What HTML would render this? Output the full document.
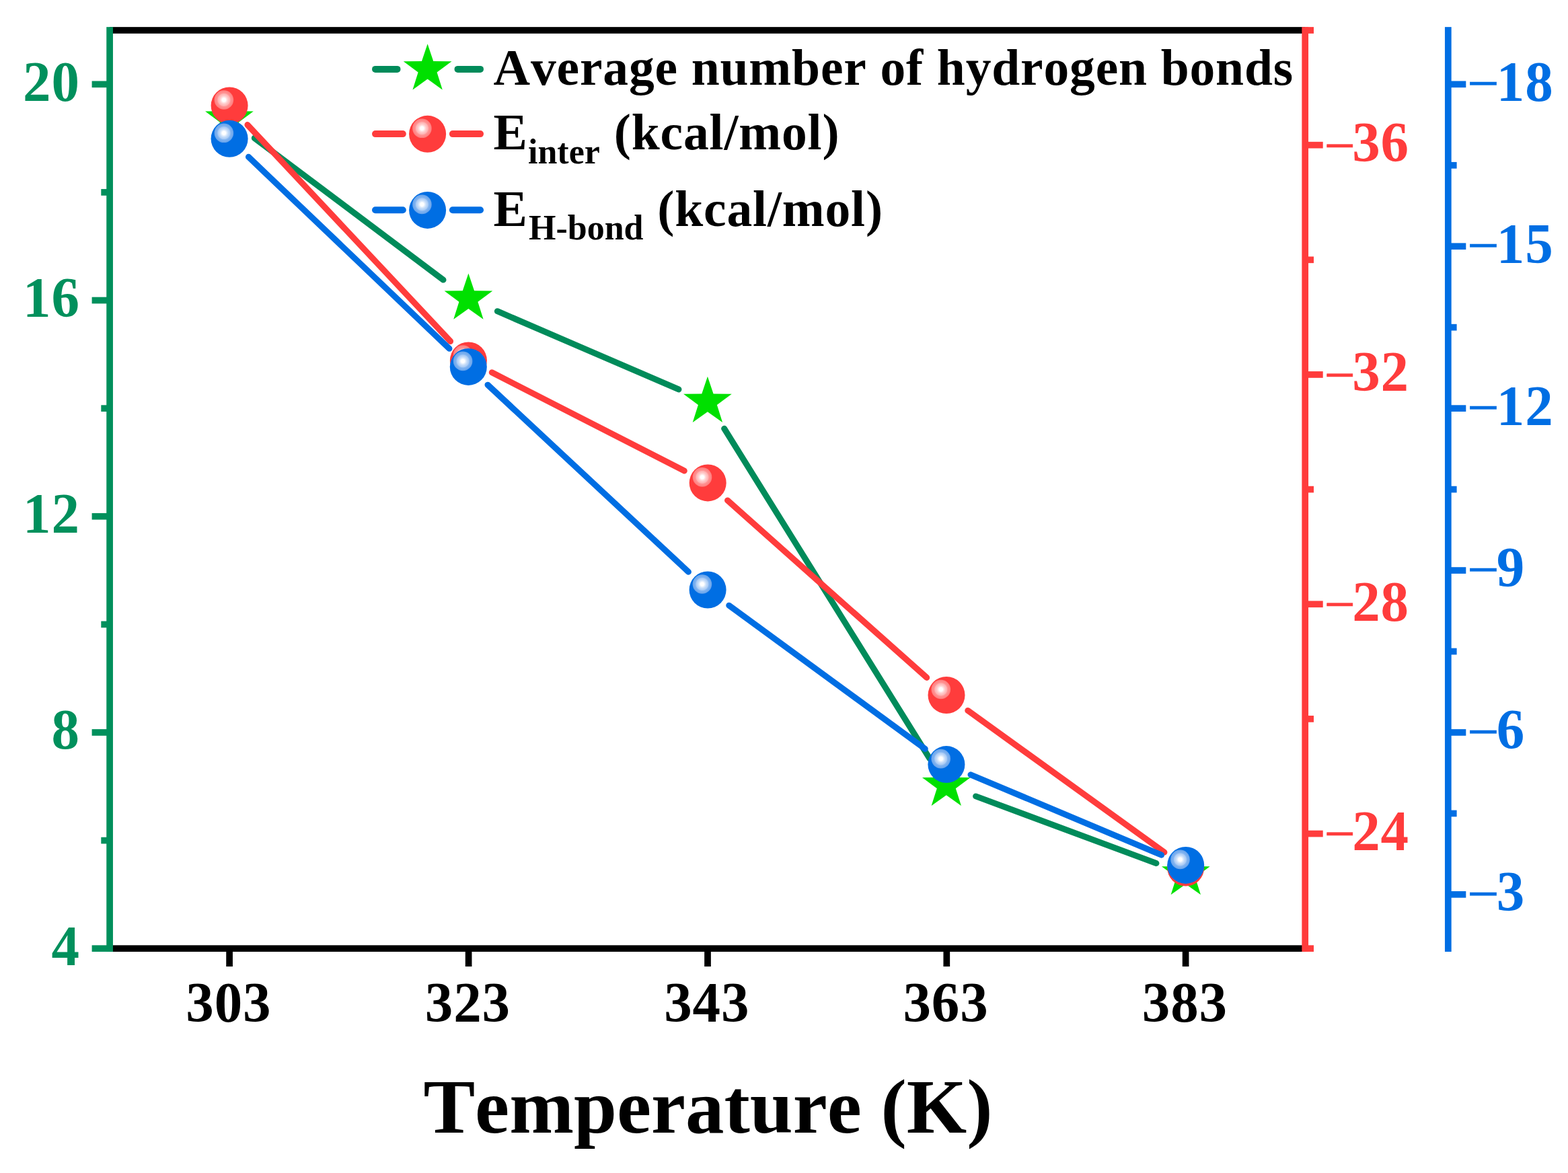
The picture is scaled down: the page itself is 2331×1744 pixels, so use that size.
<!DOCTYPE html>
<html lang="en">
<head>
<meta charset="utf-8">
<title>Temperature dependence of hydrogen bonds and interaction energies</title>
<style>
html,body{margin:0;padding:0;background:#fff;}
body{width:2331px;height:1744px;overflow:hidden;}
svg{display:block;}
text{font-family:"Liberation Serif","DejaVu Serif",serif;font-weight:bold;}
</style>
</head>
<body>
<svg width="2331" height="1744" viewBox="0 0 2331 1744" role="img" aria-label="Line chart: average number of hydrogen bonds, E inter and E H-bond versus temperature">
<defs>
<radialGradient id="hr" cx="0.5" cy="0.5" r="0.5">
<stop offset="0" stop-color="#FFFFFF"/><stop offset="0.18" stop-color="#FFFFFF"/><stop offset="0.32" stop-color="#FFDEDE"/><stop offset="0.46" stop-color="#FFC6C6"/><stop offset="0.63" stop-color="#FFB2B2"/><stop offset="0.69" stop-color="#FF9696"/><stop offset="1" stop-color="#FF7C7C"/></radialGradient>
<radialGradient id="hb" cx="0.5" cy="0.5" r="0.5">
<stop offset="0" stop-color="#FFFFFF"/><stop offset="0.18" stop-color="#FFFFFF"/><stop offset="0.32" stop-color="#DCEAFB"/><stop offset="0.46" stop-color="#C0D9F8"/><stop offset="0.63" stop-color="#A8CAF5"/><stop offset="0.69" stop-color="#86B6F0"/><stop offset="1" stop-color="#66A3EC"/></radialGradient>
</defs>
<rect x="0" y="0" width="2331" height="1744" fill="#FFFFFF"/>
<g id="axes">
<rect x="163.10" y="40.15" width="1777.10" height="9.70" fill="#000000"/>
<rect x="163.10" y="1405.35" width="1777.10" height="9.70" fill="#000000"/>
<rect x="336.25" y="1410.20" width="9.70" height="26.80" fill="#000000"/>
<rect x="691.75" y="1410.20" width="9.70" height="26.80" fill="#000000"/>
<rect x="1047.15" y="1410.20" width="9.70" height="26.80" fill="#000000"/>
<rect x="1402.45" y="1410.20" width="9.70" height="26.80" fill="#000000"/>
<rect x="1757.75" y="1410.20" width="9.70" height="26.80" fill="#000000"/>
<rect x="158.25" y="40.15" width="9.70" height="1374.90" fill="#00905C"/>
<rect x="136.60" y="1405.35" width="26.50" height="9.70" fill="#00905C"/>
<rect x="136.60" y="1084.13" width="26.50" height="9.70" fill="#00905C"/>
<rect x="136.60" y="762.90" width="26.50" height="9.70" fill="#00905C"/>
<rect x="136.60" y="441.68" width="26.50" height="9.70" fill="#00905C"/>
<rect x="136.60" y="120.46" width="26.50" height="9.70" fill="#00905C"/>
<rect x="150.30" y="1244.74" width="12.80" height="9.70" fill="#00905C"/>
<rect x="150.30" y="923.51" width="12.80" height="9.70" fill="#00905C"/>
<rect x="150.30" y="602.29" width="12.80" height="9.70" fill="#00905C"/>
<rect x="150.30" y="281.07" width="12.80" height="9.70" fill="#00905C"/>
<rect x="1935.35" y="40.15" width="9.70" height="1374.90" fill="#FF3C3C"/>
<rect x="1940.20" y="210.80" width="26.50" height="9.70" fill="#FF3C3C"/>
<rect x="1940.20" y="552.10" width="26.50" height="9.70" fill="#FF3C3C"/>
<rect x="1940.20" y="893.40" width="26.50" height="9.70" fill="#FF3C3C"/>
<rect x="1940.20" y="1234.70" width="26.50" height="9.70" fill="#FF3C3C"/>
<rect x="1940.20" y="40.15" width="12.80" height="9.70" fill="#FF3C3C"/>
<rect x="1940.20" y="381.45" width="12.80" height="9.70" fill="#FF3C3C"/>
<rect x="1940.20" y="722.75" width="12.80" height="9.70" fill="#FF3C3C"/>
<rect x="1940.20" y="1064.05" width="12.80" height="9.70" fill="#FF3C3C"/>
<rect x="1940.20" y="1405.35" width="12.80" height="9.70" fill="#FF3C3C"/>
<rect x="2147.95" y="40.15" width="9.70" height="1374.90" fill="#006EE3"/>
<rect x="2152.80" y="120.46" width="26.50" height="9.70" fill="#006EE3"/>
<rect x="2152.80" y="361.37" width="26.50" height="9.70" fill="#006EE3"/>
<rect x="2152.80" y="602.29" width="26.50" height="9.70" fill="#006EE3"/>
<rect x="2152.80" y="843.21" width="26.50" height="9.70" fill="#006EE3"/>
<rect x="2152.80" y="1084.13" width="26.50" height="9.70" fill="#006EE3"/>
<rect x="2152.80" y="1325.04" width="26.50" height="9.70" fill="#006EE3"/>
<rect x="2152.80" y="240.91" width="12.80" height="9.70" fill="#006EE3"/>
<rect x="2152.80" y="481.83" width="12.80" height="9.70" fill="#006EE3"/>
<rect x="2152.80" y="722.75" width="12.80" height="9.70" fill="#006EE3"/>
<rect x="2152.80" y="963.67" width="12.80" height="9.70" fill="#006EE3"/>
<rect x="2152.80" y="1204.59" width="12.80" height="9.70" fill="#006EE3"/>
</g>
<g id="series-hbonds">
<line x1="378.32" y1="205.31" x2="658.98" y2="416.09" stroke="#008B5A" stroke-width="9.0" stroke-linecap="round"/>
<line x1="739.37" y1="462.73" x2="1008.93" y2="578.97" stroke="#008B5A" stroke-width="9.0" stroke-linecap="round"/>
<line x1="1076.63" y1="637.23" x2="1382.07" y2="1127.87" stroke="#008B5A" stroke-width="9.0" stroke-linecap="round"/>
<line x1="1450.67" y1="1183.89" x2="1718.93" y2="1283.51" stroke="#008B5A" stroke-width="9.0" stroke-linecap="round"/>
<polygon points="340.90,139.50 349.54,165.31 376.75,165.55 354.88,181.74 363.06,207.70 340.90,191.90 318.74,207.70 326.92,181.74 305.05,165.55 332.26,165.31" fill="#00E000"/>
<polygon points="696.40,406.50 705.04,432.31 732.25,432.55 710.38,448.74 718.56,474.70 696.40,458.90 674.24,474.70 682.42,448.74 660.55,432.55 687.76,432.31" fill="#00E000"/>
<polygon points="1051.90,559.80 1060.54,585.61 1087.75,585.85 1065.88,602.04 1074.06,628.00 1051.90,612.20 1029.74,628.00 1037.92,602.04 1016.05,585.85 1043.26,585.61" fill="#00E000"/>
<polygon points="1406.80,1129.90 1415.44,1155.71 1442.65,1155.95 1420.78,1172.14 1428.96,1198.10 1406.80,1182.30 1384.64,1198.10 1392.82,1172.14 1370.95,1155.95 1398.16,1155.71" fill="#00E000"/>
<polygon points="1762.80,1262.10 1771.44,1287.91 1798.65,1288.15 1776.78,1304.34 1784.96,1330.30 1762.80,1314.50 1740.64,1330.30 1748.82,1304.34 1726.95,1288.15 1754.16,1287.91" fill="#00E000"/>
</g>
<g id="series-einter">
<line x1="367.91" y1="185.60" x2="669.59" y2="507.40" stroke="#FF3C3C" stroke-width="9.0" stroke-linecap="round"/>
<line x1="731.30" y1="553.84" x2="1017.30" y2="700.06" stroke="#FF3C3C" stroke-width="9.0" stroke-linecap="round"/>
<line x1="1081.49" y1="743.95" x2="1377.71" y2="1007.45" stroke="#FF3C3C" stroke-width="9.0" stroke-linecap="round"/>
<line x1="1438.79" y1="1056.43" x2="1730.91" y2="1267.17" stroke="#FF3C3C" stroke-width="9.0" stroke-linecap="round"/>
<circle cx="341.10" cy="157.00" r="27.5" fill="#FF3C3C"/>
<circle cx="332.90" cy="148.50" r="14.3" fill="url(#hr)"/>
<circle cx="696.40" cy="536.00" r="27.5" fill="#FF3C3C"/>
<circle cx="688.20" cy="527.50" r="14.3" fill="url(#hr)"/>
<circle cx="1052.20" cy="717.90" r="27.5" fill="#FF3C3C"/>
<circle cx="1044.00" cy="709.40" r="14.3" fill="url(#hr)"/>
<circle cx="1407.00" cy="1033.50" r="27.5" fill="#FF3C3C"/>
<circle cx="1398.80" cy="1025.00" r="14.3" fill="url(#hr)"/>
<circle cx="1762.70" cy="1290.10" r="27.5" fill="#FF3C3C"/>
<circle cx="1754.50" cy="1281.60" r="14.3" fill="url(#hr)"/>
</g>
<g id="series-ehbond">
<line x1="369.45" y1="233.37" x2="667.95" y2="518.33" stroke="#006EE3" stroke-width="9.0" stroke-linecap="round"/>
<line x1="724.98" y1="572.13" x2="1023.42" y2="850.27" stroke="#006EE3" stroke-width="9.0" stroke-linecap="round"/>
<line x1="1083.74" y1="900.15" x2="1375.26" y2="1113.45" stroke="#006EE3" stroke-width="9.0" stroke-linecap="round"/>
<line x1="1443.03" y1="1151.81" x2="1726.57" y2="1271.19" stroke="#006EE3" stroke-width="9.0" stroke-linecap="round"/>
<circle cx="341.10" cy="206.30" r="27.5" fill="#006EE3"/>
<circle cx="332.90" cy="197.80" r="14.3" fill="url(#hb)"/>
<circle cx="696.30" cy="545.40" r="27.5" fill="#006EE3"/>
<circle cx="688.10" cy="536.90" r="14.3" fill="url(#hb)"/>
<circle cx="1052.10" cy="877.00" r="27.5" fill="#006EE3"/>
<circle cx="1043.90" cy="868.50" r="14.3" fill="url(#hb)"/>
<circle cx="1406.90" cy="1136.60" r="27.5" fill="#006EE3"/>
<circle cx="1398.70" cy="1128.10" r="14.3" fill="url(#hb)"/>
<circle cx="1762.70" cy="1286.40" r="27.5" fill="#006EE3"/>
<circle cx="1754.50" cy="1277.90" r="14.3" fill="url(#hb)"/>
</g>
<g id="legend-symbols">
<line x1="558.00" y1="102.90" x2="590.50" y2="102.90" stroke="#008B5A" stroke-width="10.0" stroke-linecap="round"/>
<line x1="680.50" y1="102.90" x2="714.00" y2="102.90" stroke="#008B5A" stroke-width="10.0" stroke-linecap="round"/>
<polygon points="635.60,65.20 644.24,91.01 671.45,91.25 649.58,107.44 657.76,133.40 635.60,117.60 613.44,133.40 621.62,107.44 599.75,91.25 626.96,91.01" fill="#00E000"/>
<line x1="558.00" y1="199.10" x2="598.80" y2="199.10" stroke="#FF3C3C" stroke-width="10.0" stroke-linecap="round"/>
<line x1="672.90" y1="199.10" x2="714.00" y2="199.10" stroke="#FF3C3C" stroke-width="10.0" stroke-linecap="round"/>
<circle cx="635.60" cy="199.30" r="27.5" fill="#FF3C3C"/>
<circle cx="627.40" cy="190.80" r="14.3" fill="url(#hr)"/>
<line x1="558.00" y1="312.20" x2="598.80" y2="312.20" stroke="#006EE3" stroke-width="10.0" stroke-linecap="round"/>
<line x1="672.90" y1="312.20" x2="714.00" y2="312.20" stroke="#006EE3" stroke-width="10.0" stroke-linecap="round"/>
<circle cx="635.60" cy="312.40" r="27.5" fill="#006EE3"/>
<circle cx="627.40" cy="303.90" r="14.3" fill="url(#hb)"/>
</g>
<g id="tick-labels">
<text transform="translate(118.90,1434.60) scale(1,1.03)" font-size="83" fill="#00905C" text-anchor="end" style="letter-spacing:0.9px">4</text>
<text transform="translate(118.90,1113.38) scale(1,1.03)" font-size="83" fill="#00905C" text-anchor="end" style="letter-spacing:0.9px">8</text>
<text transform="translate(118.90,792.15) scale(1,1.03)" font-size="83" fill="#00905C" text-anchor="end" style="letter-spacing:0.9px">12</text>
<text transform="translate(118.90,470.93) scale(1,1.03)" font-size="83" fill="#00905C" text-anchor="end" style="letter-spacing:0.9px">16</text>
<text transform="translate(118.90,149.71) scale(1,1.03)" font-size="83" fill="#00905C" text-anchor="end" style="letter-spacing:0.9px">20</text>
<text transform="translate(339.85,1519.30) scale(1,1.03)" font-size="83" fill="#000000" text-anchor="middle" style="letter-spacing:0.9px">303</text>
<text transform="translate(695.35,1519.30) scale(1,1.03)" font-size="83" fill="#000000" text-anchor="middle" style="letter-spacing:0.9px">323</text>
<text transform="translate(1050.75,1519.30) scale(1,1.03)" font-size="83" fill="#000000" text-anchor="middle" style="letter-spacing:0.9px">343</text>
<text transform="translate(1406.05,1519.30) scale(1,1.03)" font-size="83" fill="#000000" text-anchor="middle" style="letter-spacing:0.9px">363</text>
<text transform="translate(1761.35,1519.30) scale(1,1.03)" font-size="83" fill="#000000" text-anchor="middle" style="letter-spacing:0.9px">383</text>
<text transform="translate(2010.20,240.05) scale(1,1.03)" font-size="83" fill="#FF3C3C" style="letter-spacing:0.9px"><tspan x="-41.40" y="4.36" font-size="82" stroke="#FF3C3C" stroke-width="0.6" style="font-weight:normal;letter-spacing:0">−</tspan><tspan x="0" y="0">36</tspan></text>
<text transform="translate(2010.20,581.35) scale(1,1.03)" font-size="83" fill="#FF3C3C" style="letter-spacing:0.9px"><tspan x="-41.40" y="4.36" font-size="82" stroke="#FF3C3C" stroke-width="0.6" style="font-weight:normal;letter-spacing:0">−</tspan><tspan x="0" y="0">32</tspan></text>
<text transform="translate(2010.20,922.65) scale(1,1.03)" font-size="83" fill="#FF3C3C" style="letter-spacing:0.9px"><tspan x="-41.40" y="4.36" font-size="82" stroke="#FF3C3C" stroke-width="0.6" style="font-weight:normal;letter-spacing:0">−</tspan><tspan x="0" y="0">28</tspan></text>
<text transform="translate(2010.20,1263.95) scale(1,1.03)" font-size="83" fill="#FF3C3C" style="letter-spacing:0.9px"><tspan x="-41.40" y="4.36" font-size="82" stroke="#FF3C3C" stroke-width="0.6" style="font-weight:normal;letter-spacing:0">−</tspan><tspan x="0" y="0">24</tspan></text>
<text transform="translate(2224.80,149.71) scale(1,1.03)" font-size="83" fill="#006EE3" style="letter-spacing:0.9px"><tspan x="-43.80" y="3.45" font-size="84.5" stroke="#006EE3" stroke-width="0.6" style="font-weight:normal;letter-spacing:0">−</tspan><tspan x="0" y="0">18</tspan></text>
<text transform="translate(2224.80,390.62) scale(1,1.03)" font-size="83" fill="#006EE3" style="letter-spacing:0.9px"><tspan x="-43.80" y="3.45" font-size="84.5" stroke="#006EE3" stroke-width="0.6" style="font-weight:normal;letter-spacing:0">−</tspan><tspan x="0" y="0">15</tspan></text>
<text transform="translate(2224.80,631.54) scale(1,1.03)" font-size="83" fill="#006EE3" style="letter-spacing:0.9px"><tspan x="-43.80" y="3.45" font-size="84.5" stroke="#006EE3" stroke-width="0.6" style="font-weight:normal;letter-spacing:0">−</tspan><tspan x="0" y="0">12</tspan></text>
<text transform="translate(2224.80,872.46) scale(1,1.03)" font-size="83" fill="#006EE3" style="letter-spacing:0.9px"><tspan x="-43.80" y="3.45" font-size="84.5" stroke="#006EE3" stroke-width="0.6" style="font-weight:normal;letter-spacing:0">−</tspan><tspan x="0" y="0">9</tspan></text>
<text transform="translate(2224.80,1113.38) scale(1,1.03)" font-size="83" fill="#006EE3" style="letter-spacing:0.9px"><tspan x="-43.80" y="3.45" font-size="84.5" stroke="#006EE3" stroke-width="0.6" style="font-weight:normal;letter-spacing:0">−</tspan><tspan x="0" y="0">6</tspan></text>
<text transform="translate(2224.80,1354.29) scale(1,1.03)" font-size="83" fill="#006EE3" style="letter-spacing:0.9px"><tspan x="-43.80" y="3.45" font-size="84.5" stroke="#006EE3" stroke-width="0.6" style="font-weight:normal;letter-spacing:0">−</tspan><tspan x="0" y="0">3</tspan></text>
</g>
<text id="x-title" x="629.40" y="1683.60" font-size="115" fill="#000000" style="font-kerning:none">Temperature (K)</text>
<g id="legend-text">
<text x="733.60" y="125.80" font-size="75.5" fill="#000000" style="letter-spacing:0.86px;font-kerning:none">Average number of hydrogen bonds</text>
<text font-size="75.5" fill="#000000" style="letter-spacing:0.86px;font-kerning:none"><tspan x="733.60" y="222.00">E</tspan><tspan x="785.00" y="242.70" font-size="52" style="letter-spacing:0;font-kerning:auto">inter</tspan><tspan x="893.00" y="222.00" xml:space="preserve"> (kcal/mol)</tspan></text>
<text font-size="75.5" fill="#000000" style="letter-spacing:0.86px;font-kerning:none"><tspan x="733.60" y="336.00">E</tspan><tspan x="786.00" y="356.40" font-size="52" style="letter-spacing:0;font-kerning:auto">H-bond</tspan><tspan x="957.50" y="336.00" xml:space="preserve"> (kcal/mol)</tspan></text>
</g>
</svg>
</body>
</html>
